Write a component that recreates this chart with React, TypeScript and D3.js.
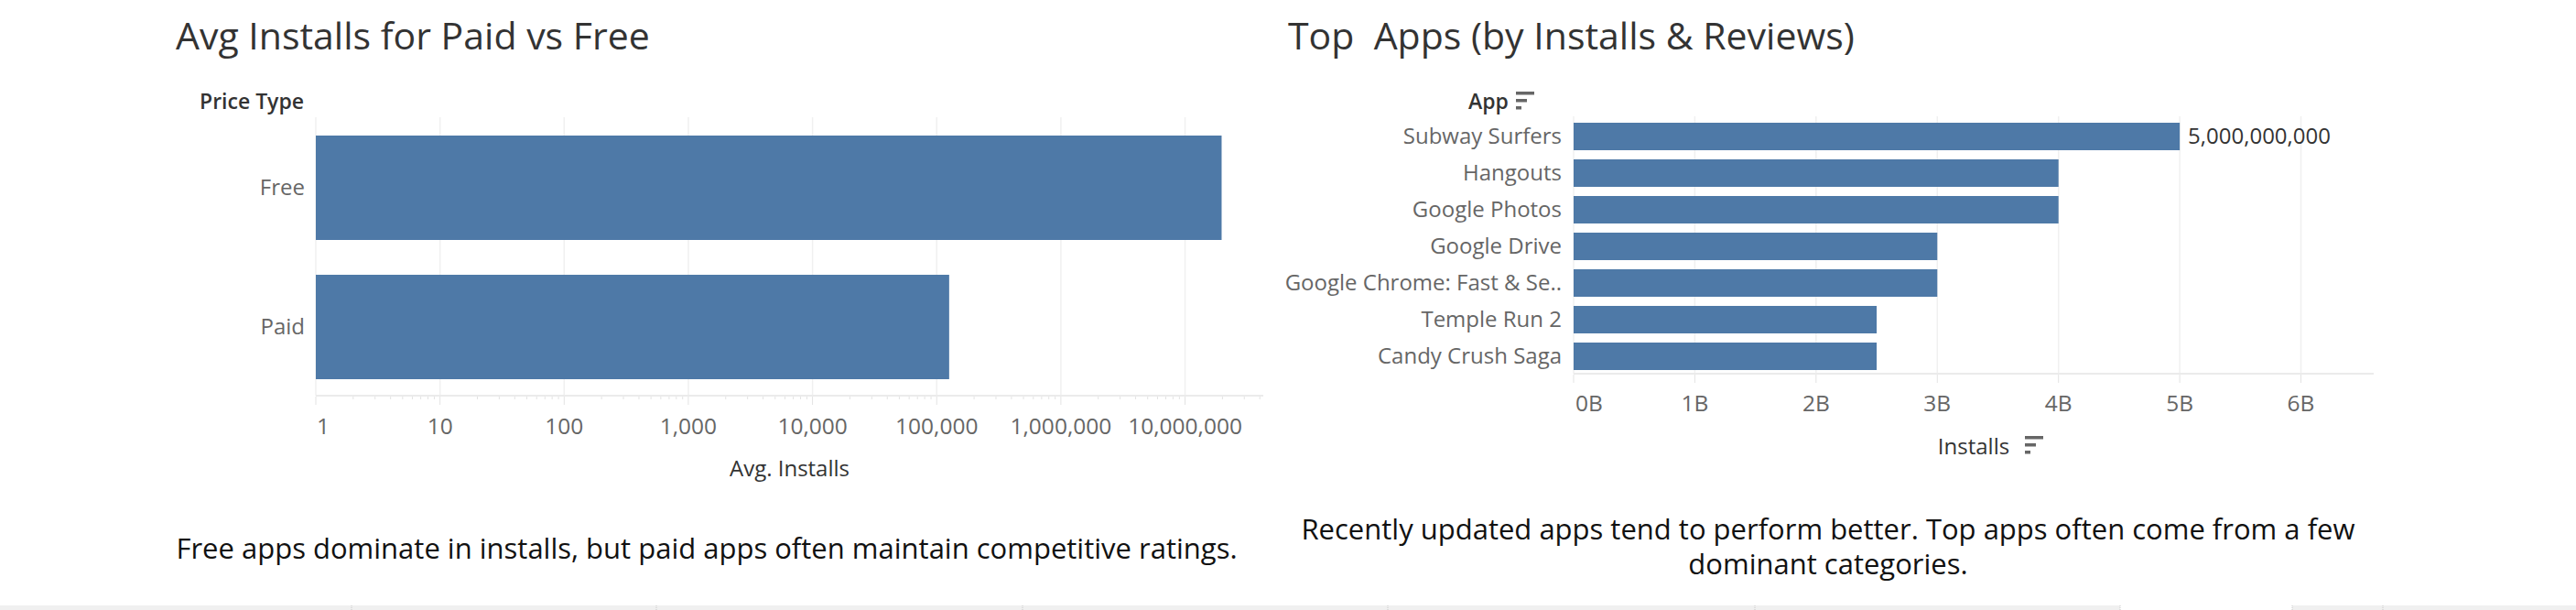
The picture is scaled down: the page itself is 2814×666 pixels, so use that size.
import { useEffect, useRef } from 'react';
import * as d3 from 'd3';

// --- Data ---
const priceTypes = ['Free', 'Paid'];
const avgInstalls = [19700000, 126000];
const logTicks = [1, 10, 100, 1000, 10000, 100000, 1000000, 10000000];

const apps = [
    'Subway Surfers',
    'Hangouts',
    'Google Photos',
    'Google Drive',
    'Google Chrome: Fast & Se..',
    'Temple Run 2',
    'Candy Crush Saga',
];
const appInstalls = [5000000000, 4000000000, 4000000000, 3000000000, 3000000000, 2500000000, 2500000000];
const installTicks = [0, 1e9, 2e9, 3e9, 4e9, 5e9, 6e9];

const leftTitle = 'Avg Installs for Paid vs Free';
const rightTitle = 'Top  Apps (by Installs & Reviews)';
const leftCaption = ['Free apps dominate in installs, but paid apps often maintain competitive ratings.'];
const rightCaption = ['Recently updated apps tend to perform better. Top apps often come from a few', 'dominant categories.'];
const dividerXs = [384, 717, 1117, 1516, 1917, 2316, 2504, 2603];

const W = 2814;
const H = 666;
const FONT = '"Open Sans", "Noto Sans", sans-serif';
const barColor = '#4e79a7';
const gridColor = '#f0f0f0';
const tickText = '#666666';
const headText = '#333333';

export default function App() {
    const svgRef = useRef<SVGSVGElement>(null);

    useEffect(() => {
        if (!svgRef.current) return;
        const svg = d3.select(svgRef.current);
        svg.selectAll('*').remove();
        svg.style('font-family', FONT);

        // sort icon (three bars getting shorter)
        const sortIcon = (x: number, y: number) => {
            [20, 12, 6].forEach((w, i) => {
                svg.append('rect')
                    .attr('x', x).attr('y', y + i * 8)
                    .attr('width', w).attr('height', 3.5)
                    .attr('fill', '#666');
            });
        };

        // ================= LEFT: Avg Installs (log) =================
        const lx = d3.scaleLog().domain([1, 10 ** 7.63]).range([345, 1380]);
        const ly = d3.scaleBand<string>().domain(priceTypes).range([129, 433])
            .paddingInner(0.25).paddingOuter(0.125);

        svg.append('text')
            .attr('x', 192).attr('y', 54)
            .attr('font-size', 41).attr('fill', headText)
            .text(leftTitle);

        svg.append('text')
            .attr('x', 218).attr('y', 119)
            .attr('font-size', 23).attr('font-weight', 600).attr('fill', headText)
            .text('Price Type');

        // gridlines
        logTicks.forEach(t => {
            svg.append('line')
                .attr('x1', lx(t)).attr('x2', lx(t))
                .attr('y1', 128).attr('y2', 432)
                .attr('stroke', gridColor).attr('stroke-width', 1.5);
        });

        // bars
        priceTypes.forEach((p, i) => {
            svg.append('rect')
                .attr('x', lx(1))
                .attr('y', ly(p)!)
                .attr('width', lx(avgInstalls[i]) - lx(1))
                .attr('height', ly.bandwidth())
                .attr('fill', barColor);
            svg.append('text')
                .attr('x', 333).attr('y', ly(p)! + ly.bandwidth() / 2)
                .attr('dy', '0.35em').attr('text-anchor', 'end')
                .attr('font-size', 24).attr('fill', tickText)
                .text(p);
        });

        // axis
        svg.append('line')
            .attr('x1', 345).attr('x2', 1380).attr('y1', 432).attr('y2', 432)
            .attr('stroke', '#ebebeb').attr('stroke-width', 2);

        logTicks.forEach(t => {
            svg.append('line')
                .attr('x1', lx(t)).attr('x2', lx(t)).attr('y1', 433).attr('y2', 442)
                .attr('stroke', '#e3e3e3').attr('stroke-width', 1);
            for (let k = 2; k <= 9; k++) {
                const v = t * k;
                if (lx(v) > 1380) break;
                svg.append('line')
                    .attr('x1', lx(v)).attr('x2', lx(v)).attr('y1', 433).attr('y2', 436)
                    .attr('stroke', '#e3e3e3').attr('stroke-width', 1);
            }
            const first = t === logTicks[0];
            svg.append('text')
                .attr('x', first ? lx(t) + 1 : lx(t)).attr('y', 465)
                .attr('dy', '0.35em').attr('text-anchor', first ? 'start' : 'middle')
                .attr('font-size', 24.5).attr('fill', tickText)
                .text(d3.format(',')(t));
        });

        svg.append('text')
            .attr('x', (345 + 1380) / 2).attr('y', 520)
            .attr('text-anchor', 'middle')
            .attr('font-size', 24).attr('font-weight', 500).attr('fill', headText)
            .text('Avg. Installs');

        leftCaption.forEach((line, i) => {
            svg.append('text')
                .attr('x', 772).attr('y', 599 + i * 38)
                .attr('dy', '0.35em').attr('text-anchor', 'middle')
                .attr('font-size', 31).attr('fill', '#111')
                .text(line);
        });

        // ================= RIGHT: Top Apps =================
        const rx = d3.scaleLinear().domain([0, 6.6e9]).range([1719, 2593]);
        const ry = d3.scaleBand<string>().domain(apps).range([129, 409])
            .paddingInner(0.25).paddingOuter(0.125);

        svg.append('text')
            .attr('x', 1407).attr('y', 54)
            .attr('font-size', 41).attr('fill', headText)
            .style('white-space', 'pre')
            .text(rightTitle);

        svg.append('text')
            .attr('x', 1604).attr('y', 119)
            .attr('font-size', 23).attr('font-weight', 600).attr('fill', headText)
            .text('App');
        sortIcon(1656, 100);

        installTicks.forEach(t => {
            svg.append('line')
                .attr('x1', rx(t)).attr('x2', rx(t))
                .attr('y1', 127).attr('y2', 408)
                .attr('stroke', gridColor).attr('stroke-width', 1.5);
        });

        apps.forEach((a, i) => {
            svg.append('rect')
                .attr('x', rx(0))
                .attr('y', ry(a)!)
                .attr('width', rx(appInstalls[i]) - rx(0))
                .attr('height', ry.bandwidth())
                .attr('fill', barColor);
            svg.append('text')
                .attr('x', 1706).attr('y', ry(a)! + ry.bandwidth() / 2)
                .attr('dy', '0.35em').attr('text-anchor', 'end')
                .attr('font-size', 24).attr('fill', tickText)
                .text(a);
        });

        // value label on the top bar
        svg.append('text')
            .attr('x', rx(appInstalls[0]) + 9).attr('y', ry(apps[0])! + ry.bandwidth() / 2)
            .attr('dy', '0.35em')
            .attr('font-size', 24).attr('fill', headText)
            .text(d3.format(',')(appInstalls[0]));

        svg.append('line')
            .attr('x1', 1719).attr('x2', 2593).attr('y1', 408).attr('y2', 408)
            .attr('stroke', '#ebebeb').attr('stroke-width', 2);

        installTicks.forEach(t => {
            svg.append('line')
                .attr('x1', rx(t)).attr('x2', rx(t)).attr('y1', 409).attr('y2', 418)
                .attr('stroke', '#e3e3e3').attr('stroke-width', 1);
            const first = t === installTicks[0];
            svg.append('text')
                .attr('x', first ? rx(t) + 2 : rx(t)).attr('y', 440)
                .attr('dy', '0.35em').attr('text-anchor', first ? 'start' : 'middle')
                .attr('font-size', 24.5).attr('fill', tickText)
                .text(`${t / 1e9}B`);
        });

        svg.append('text')
            .attr('x', (1719 + 2593) / 2).attr('y', 496)
            .attr('text-anchor', 'middle')
            .attr('font-size', 24).attr('font-weight', 500).attr('fill', headText)
            .text('Installs');
        sortIcon(2212, 476);

        rightCaption.forEach((line, i) => {
            svg.append('text')
                .attr('x', 1997).attr('y', 578 + i * 38)
                .attr('dy', '0.35em').attr('text-anchor', 'middle')
                .attr('font-size', 31).attr('fill', '#111')
                .text(line);
        });

        // ================= bottom strip =================
        svg.append('rect')
            .attr('x', 0).attr('y', 661).attr('width', W).attr('height', 5)
            .attr('fill', '#f0f0f0');
        svg.append('rect')
            .attr('x', 2316).attr('y', 661).attr('width', 188).attr('height', 5)
            .attr('fill', '#fff');
        dividerXs.forEach(x => {
            svg.append('line')
                .attr('x1', x).attr('x2', x).attr('y1', 661).attr('y2', 666)
                .attr('stroke', '#c8c8c8').attr('stroke-dasharray', '1,1');
        });
    }, []);

    return (
        <>
            <style>{'body{margin:0;background:#fff}'}</style>
            <svg ref={svgRef} width={W} height={H} style={{ display: 'block' }} />
        </>
    );
}
